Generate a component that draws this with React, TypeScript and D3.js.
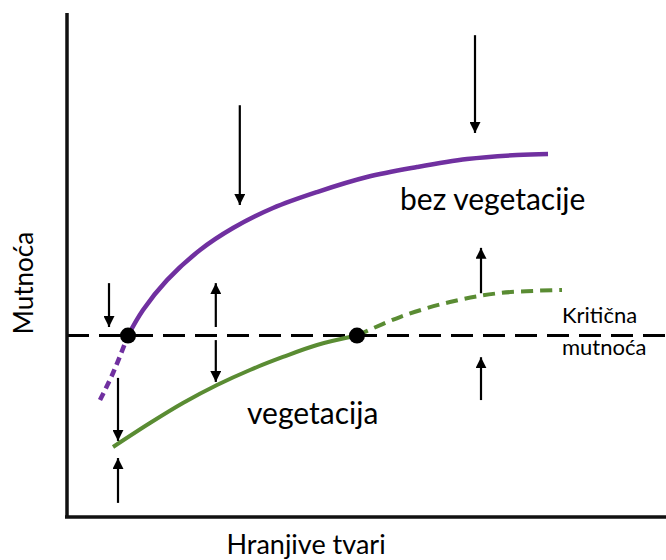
import * as d3 from "d3";

const W = 666;
const H = 560;

// curve points, [nutrients, turbidity] on a 0-100 scale
const purpleSolid: [number, number][] = [
  [10.17, 36], [12.67, 41.07], [16.67, 47.0], [22.17, 52.98], [27.67, 57.34],
  [34.33, 61.31], [41.67, 64.48], [50.0, 67.46], [58.33, 69.44], [66.67, 71.03],
  [75.0, 71.83], [80.17, 72.02],
];
const purpleDashed: [number, number][] = [[5.5, 23.2], [7.67, 28.57], [10.17, 36]];
const greenSolid: [number, number][] = [
  [7.67, 13.89], [13.83, 18.65], [19.33, 22.62], [25.0, 26.19], [30.5, 29.17],
  [36.0, 31.75], [41.67, 34.13], [48.33, 36],
];
const greenDashed: [number, number][] = [
  [48.33, 36], [55.5, 39.68], [63.83, 42.66], [72.17, 44.44], [82.5, 45.04],
];
const critical = 36;
const equilibria = [10.17, 48.33];

// arrows: x, tail y, tip y
const arrows: [number, number, number][] = [
  [7.0, 46.4, 37.7],
  [24.8, 37.7, 46.4],
  [24.8, 35.1, 26.8],
  [8.5, 27.6, 15.1],
  [8.5, 2.8, 11.7],
  [28.8, 81.7, 61.9],
  [68, 95.6, 76.2],
  [69, 44.4, 53.4],
  [69, 23.2, 31.7],
];

const font = "Lato, 'Open Sans', sans-serif";
const purple = "#7030a0";
const green = "#5a8c33";

export default function App() {
  const x = d3.scaleLinear().domain([0, 100]).range([67, 667]);
  const y = d3.scaleLinear().domain([0, 100]).range([517, 13]);
  const line = d3
    .line<[number, number]>()
    .x((d) => x(d[0]))
    .y((d) => y(d[1]))
    .curve(d3.curveCatmullRom.alpha(0.5));

  return (
    <div style={{ position: "fixed", left: 0, top: 0 }}>
      <svg width={W} height={H} viewBox={`0 0 ${W} ${H}`} style={{ display: "block", background: "#fff" }}>
        <defs>
          <marker id="head" viewBox="0 0 10 10" refX="10" refY="5" markerWidth="11" markerHeight="11"
            markerUnits="userSpaceOnUse" orient="auto">
            <path d="M0,0 L10,5 L0,10 z" fill="#000" />
          </marker>
        </defs>

        {/* critical turbidity */}
        <line x1={x(0)} x2={665} y1={y(critical)} y2={y(critical)} stroke="#000"
          strokeWidth={3} strokeDasharray="22 10" />

        <path d={line(purpleSolid) ?? ""} fill="none" stroke={purple} strokeWidth={4.5} />
        <path d={line(purpleDashed) ?? ""} fill="none" stroke={purple} strokeWidth={4.5} strokeDasharray="8 5" />
        <path d={line(greenSolid) ?? ""} fill="none" stroke={green} strokeWidth={4} />
        <path d={line(greenDashed) ?? ""} fill="none" stroke={green} strokeWidth={4} strokeDasharray="12 7" />

        {equilibria.map((e) => (
          <circle key={e} cx={x(e)} cy={y(critical)} r={8} fill="#000" />
        ))}

        {arrows.map(([ax, t, h], i) => (
          <line key={i} x1={x(ax)} x2={x(ax)} y1={y(t)} y2={y(h)} stroke="#000"
            strokeWidth={2.2} markerEnd="url(#head)" />
        ))}

        {/* axes */}
        <line x1={67} x2={67} y1={13} y2={518} stroke="#111" strokeWidth={3.5} />
        <line x1={65} x2={666} y1={517} y2={517} stroke="#111" strokeWidth={3.5} />

        <text x={400} y={210} fontFamily={font} fontSize={30} fill="#000">bez vegetacije</text>
        <text x={247} y={424} fontFamily={font} fontSize={30} fill="#000">vegetacija</text>
        <text x={562} y={323} fontFamily={font} fontSize={22} fill="#000">Kritična</text>
        <text x={562} y={355} fontFamily={font} fontSize={22} fill="#000">mutnoća</text>
        <text x={306} y={554} textAnchor="middle" fontFamily={font} fontSize={27} fill="#000">Hranjive tvari</text>
        <text transform={`translate(33,283) rotate(-90)`} textAnchor="middle" fontFamily={font} fontSize={26} fill="#000">Mutnoća</text>
      </svg>
    </div>
  );
}
